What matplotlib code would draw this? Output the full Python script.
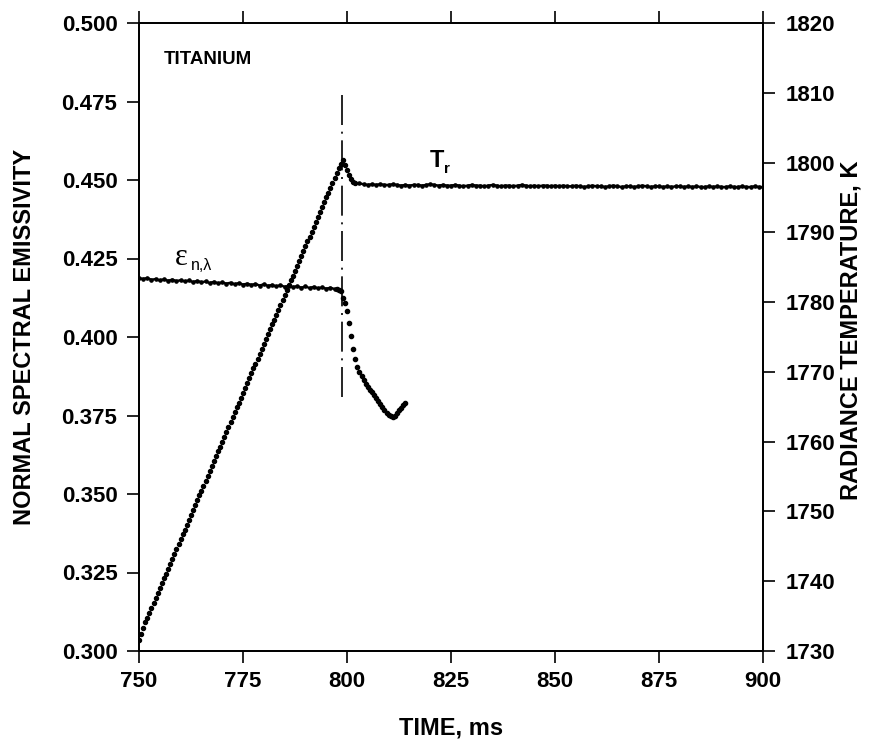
import numpy as np
import matplotlib
matplotlib.use("Agg")
import matplotlib.pyplot as plt

plt.rcParams['font.family'] = ['Liberation Sans', 'DejaVu Sans']

# ---- data ----
# radiance temperature, rising part + post-peak drop (0.5 ms sampling)
t_ramp = np.arange(750.0, 802.25, 0.5)
T_ramp = [
    1731.6, 1732.5, 1733.3, 1734.1, 1734.8, 1735.5, 1736.2, 1736.9, 1737.6, 1738.3,
    1739.0, 1739.7, 1740.4, 1741.1, 1741.8, 1742.5, 1743.2, 1743.9, 1744.6, 1745.3,
    1746.0, 1746.7, 1747.4, 1748.1, 1748.8, 1749.5, 1750.2, 1750.9, 1751.6, 1752.3,
    1753.0, 1753.7, 1754.4, 1755.1, 1755.8, 1756.5, 1757.2, 1757.9, 1758.6, 1759.3,
    1760.0, 1760.7, 1761.4, 1762.1, 1762.8, 1763.5, 1764.2, 1764.9, 1765.6, 1766.3,
    1767.0, 1767.7, 1768.4, 1769.1, 1769.8, 1770.5, 1771.2, 1771.9, 1772.6, 1773.3,
    1774.0, 1774.7, 1775.4, 1776.1, 1776.8, 1777.5, 1778.2, 1778.9, 1779.6, 1780.3,
    1781.0, 1781.7, 1782.4, 1783.1, 1783.8, 1784.5, 1785.2, 1785.9, 1786.6, 1787.3,
    1788.0, 1788.7, 1789.4, 1790.1, 1790.8, 1791.5, 1792.2, 1792.9, 1793.6, 1794.3,
    1795.0, 1795.7, 1796.4, 1797.1, 1797.8, 1798.5, 1799.2, 1799.8, 1800.3,
    1799.7, 1799.0, 1798.2, 1797.6, 1797.2, 1797.0,
]
# radiance temperature plateau (1 ms sampling)
t_plat = np.arange(803, 901, 1)
T_plat = [
    1797.0, 1796.9, 1796.8, 1796.9, 1796.8, 1796.9, 1796.8, 1796.8, 1796.9, 1796.8,
    1796.7, 1796.8, 1796.7, 1796.8, 1796.8, 1796.7, 1796.8, 1796.9, 1796.8, 1796.7,
    1796.8, 1796.7, 1796.7, 1796.8, 1796.7, 1796.6, 1796.7, 1796.8, 1796.7, 1796.7,
    1796.6, 1796.7, 1796.8, 1796.7, 1796.6, 1796.7, 1796.7, 1796.6, 1796.7, 1796.8,
    1796.7, 1796.6, 1796.7, 1796.6, 1796.7, 1796.7, 1796.6, 1796.7, 1796.6, 1796.7,
    1796.6, 1796.6, 1796.7, 1796.6, 1796.5, 1796.6, 1796.7, 1796.6, 1796.6, 1796.5,
    1796.6, 1796.7, 1796.6, 1796.5, 1796.6, 1796.6, 1796.5, 1796.6, 1796.7, 1796.6,
    1796.5, 1796.6, 1796.6, 1796.5, 1796.6, 1796.5, 1796.6, 1796.6, 1796.5, 1796.6,
    1796.5, 1796.6, 1796.5, 1796.5, 1796.6, 1796.5, 1796.6, 1796.5, 1796.5, 1796.6,
    1796.5, 1796.5, 1796.6, 1796.5, 1796.5, 1796.6, 1796.5, 1796.5,
]
# normal spectral emissivity, flat part (1 ms sampling)
t_eps_flat = np.arange(750, 798, 1)
eps_flat = [
    0.4187, 0.4185, 0.4188, 0.4182, 0.4185, 0.4180, 0.4184, 0.4179, 0.4183, 0.4178,
    0.4181, 0.4177, 0.4180, 0.4175, 0.4179, 0.4174, 0.4177, 0.4172, 0.4176, 0.4171,
    0.4174, 0.4170, 0.4173, 0.4168, 0.4172, 0.4167, 0.4170, 0.4166, 0.4169, 0.4164,
    0.4168, 0.4163, 0.4166, 0.4161, 0.4165, 0.4160, 0.4163, 0.4159, 0.4162, 0.4157,
    0.4161, 0.4156, 0.4160, 0.4155, 0.4158, 0.4154, 0.4157, 0.4153,
]
# emissivity after melting onset (0.5 ms sampling)
t_eps_drop = np.arange(797.5, 814.25, 0.5)
eps_drop = [
    0.4153, 0.4150, 0.4145, 0.4125, 0.4107, 0.4082, 0.4045, 0.4002, 0.3962, 0.3930,
    0.3906, 0.3889, 0.3875, 0.3862, 0.3850, 0.3842, 0.3832, 0.3824, 0.3815, 0.3806,
    0.3797, 0.3787, 0.3776, 0.3766, 0.3757, 0.3751, 0.3747, 0.3745, 0.3750, 0.3758,
    0.3766, 0.3774, 0.3782, 0.3790,
]
melt_time = 798.8
melt_line_eps = [0.381, 0.478]

x_ticks = [750, 775, 800, 825, 850, 875, 900]
eps_ticks = [0.300, 0.325, 0.350, 0.375, 0.400, 0.425, 0.450, 0.475, 0.500]
T_ticks = [1730, 1740, 1750, 1760, 1770, 1780, 1790, 1800, 1810, 1820]

# ---- figure ----
W, H = 881, 743
fig = plt.figure(figsize=(W / 100, H / 100), dpi=100)
L, R, T, B = 139, 763, 23, 651
ax = fig.add_axes([L / W, 1 - B / H, (R - L) / W, (B - T) / H])
ax2 = ax.twinx()

fs = 16
ax.set_xlim(750, 900)
ax.set_ylim(0.300, 0.500)
ax2.set_ylim(1730, 1820)

ax.set_xticks(x_ticks)
ax.set_xticklabels([str(v) for v in x_ticks])
ax.set_yticks(eps_ticks)
ax.set_yticklabels([f"{v:.3f}" for v in eps_ticks])
ax2.set_yticks(T_ticks)
ax2.set_yticklabels([str(v) for v in T_ticks])

for a in (ax, ax2):
    for s in a.spines.values():
        s.set_linewidth(1.3)
ax.tick_params(axis='x', direction='out', length=8.5, width=1.2, top=True,
               labelsize=fs, pad=6)
ax.tick_params(axis='y', direction='out', length=8.5, width=1.2,
               labelsize=fs, pad=7)
ax2.tick_params(axis='y', direction='out', length=8.5, width=1.2,
                labelsize=fs, pad=8)
for lab in ax.get_xticklabels() + ax.get_yticklabels() + ax2.get_yticklabels():
    lab.set_fontweight('bold')

# emissivity
ax.plot(t_eps_flat, eps_flat, color='black', lw=1.7, marker='o', ms=2.3,
        linestyle='-')
ax.plot(t_eps_drop, eps_drop, color='black', marker='o', ms=3.0,
        linestyle='none')
ax.plot([melt_time, melt_time], melt_line_eps, color='black', lw=1.2,
        linestyle=(0, (18, 4, 1.2, 4)))

# temperature
ax2.plot(t_ramp, T_ramp, color='black', marker='o', ms=2.9, linestyle='none')
ax2.plot(t_plat, T_plat, color='black', lw=1.7, marker='o', ms=2.3,
         linestyle='-')

# annotations
ax.text(0.04, 0.955, 'TITANIUM', transform=ax.transAxes, fontsize=13.5,
        fontweight='bold', va='top', ha='left')
ax.text(758.6, 0.4229, 'ε', fontsize=22, family=['Liberation Serif', 'DejaVu Serif'],
        ha='left', va='baseline')
ax.text(762.4, 0.4212, 'n,λ', fontsize=11.5, ha='left', va='baseline')
ax.text(819.9, 0.4541, 'T', fontsize=17, fontweight='bold', ha='left',
        va='baseline')
ax.text(823.2, 0.4522, 'r', fontsize=11, fontweight='bold', ha='left',
        va='baseline')

fig.text(451 / W, 1 - 728 / H, 'TIME, ms', fontsize=17, fontweight='bold',
         ha='center', va='center')
fig.text(25 / W, 1 - 337 / H, 'NORMAL SPECTRAL EMISSIVITY', fontsize=17,
         fontweight='bold', rotation=90, ha='center', va='center')
fig.text(851 / W, 1 - 330 / H, 'RADIANCE TEMPERATURE, K', fontsize=17,
         fontweight='bold', rotation=90, ha='center', va='center')

fig.savefig('out.png', dpi=100, facecolor='white')
